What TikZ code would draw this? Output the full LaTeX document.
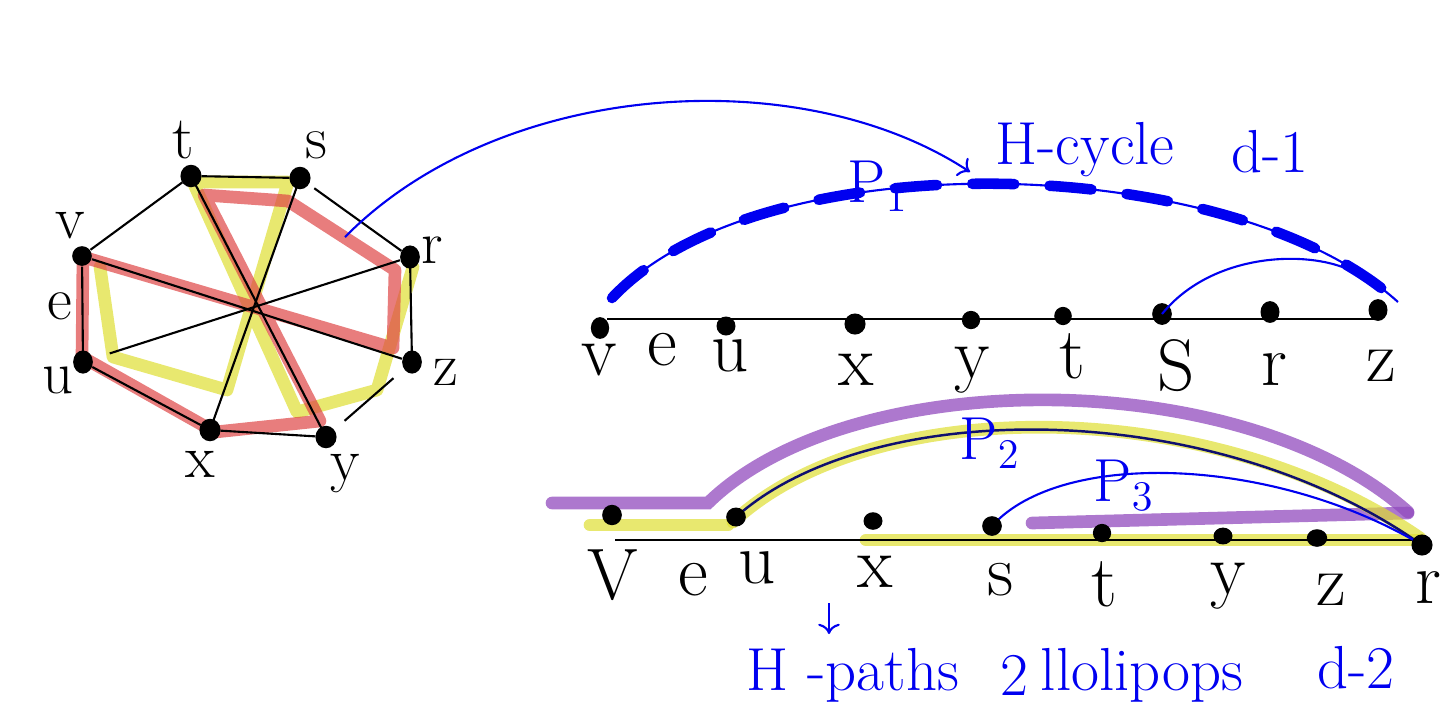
\documentclass[tikz,border=0pt]{standalone}
\usepackage{amsmath}
\usepackage{amssymb}
\usepackage{xcolor}
\usepackage{tikz}
\usetikzlibrary{arrows.meta}

\definecolor{hlred}{RGB}{222,70,70}
\definecolor{hlyel}{RGB}{222,222,50}
\definecolor{hlpur}{RGB}{145,75,190}
\definecolor{penblue}{RGB}{0,0,240}
\definecolor{navy}{RGB}{15,15,110}

\tikzset{
  edge/.style={black,line width=0.6pt,shorten <=3pt,shorten >=3pt},
  dot/.style={black},
  redhl/.style={hlred,line width=3.6pt,opacity=0.7,line join=round,line cap=round},
  yelhl/.style={hlyel,line width=3.6pt,opacity=0.7,line join=round,line cap=round},
  purhl/.style={hlpur,line width=3.6pt,opacity=0.75,line cap=round},
  pen/.style={penblue,line width=0.6pt},
  penthick/.style={penblue,line width=3pt,line cap=round,dash pattern=on 12pt off 10pt},
  vlab/.style={font=\LARGE},
  hlab/.style={font=\huge},
  note/.style={penblue,font=\LARGE}
}

\begin{document}
\begin{tikzpicture}[x=0.01cm,y=-0.01cm]
\useasboundingbox (0,0) rectangle (1451,708);

% the octagon
\coordinate (t) at (191,176);
\coordinate (s) at (300,178);
\coordinate (r) at (410,257);
\coordinate (z) at (412,362);
\coordinate (y) at (326,437);
\coordinate (x) at (210,430);
\coordinate (u) at (83,362);
\coordinate (v) at (82,256);

\draw[yelhl] (100,267) -- (113,357) -- (227,390) -- (288,182) -- (193,182) -- (297,412) -- (377,390) -- (413,267);
\draw[redhl] (83,257) -- (82,357) -- (215,432) -- (320,421) -- (204,195) -- (288,201) -- (395,270) -- (393,348) -- cycle;

\draw[edge] (t) -- (s);
\draw[edge] (t) -- (v);
\draw[edge,shorten <=5pt] (s) -- (r);
\draw[edge] (r) -- (z);
\draw[edge,shorten <=7pt,shorten >=7pt] (z) -- (y);
\draw[edge] (y) -- (x);
\draw[edge] (x) -- (u);
\draw[edge] (v) -- (u);
\draw[edge] (t) -- (y);
\draw[edge] (s) -- (x);
\draw[edge] (v) -- (z);
\draw[edge,shorten >=8pt] (r) -- (u);

\fill[dot] (t) ellipse[x radius=3pt,y radius=3.2pt];
\fill[dot] (s) ellipse[x radius=3pt,y radius=3.2pt];
\fill[dot] (r) ellipse[x radius=2.8pt,y radius=3.3pt];
\fill[dot] (z) ellipse[x radius=2.8pt,y radius=3.3pt];
\fill[dot] (y) ellipse[x radius=3pt,y radius=3.2pt];
\fill[dot] (x) ellipse[x radius=3pt,y radius=3.2pt];
\fill[dot] (u) ellipse[x radius=2.8pt,y radius=3.3pt];
\fill[dot] (v) ellipse[x radius=2.8pt,y radius=2.8pt];

\node[vlab] (lt) at (183,140) {t};
\node[vlab] (ls) at (316,145) {s};
\node[vlab] (lr) at (432,250) {r};
\node[vlab] (lz) at (446,372) {z};
\node[vlab] (ly) at (345,474) {y};
\node[vlab] (lx) at (200,464) {x};
\node[vlab] (lu) at (58,380) {u};
\node[vlab] (le) at (60,306) {e};
\node[vlab] (lv) at (70,226) {v};

% first line: the H-cycle
\coordinate (av) at (600,328);
\coordinate (au) at (726,326);
\coordinate (ax) at (855,324);
\coordinate (ay) at (971,320);
\coordinate (at) at (1063,316);
\coordinate (as) at (1162,314);
\coordinate (ar) at (1270,312);
\coordinate (az) at (1378,310);
\coordinate (aend) at (1376,319);

\draw[black,line width=0.8pt] (607,319) -- (aend);
\fill[dot] (av) ellipse[x radius=2.6pt,y radius=3.1pt];
\fill[dot] (au) ellipse[x radius=2.7pt,y radius=2.7pt];
\fill[dot] (ax) ellipse[x radius=3pt,y radius=3pt];
\fill[dot] (ay) ellipse[x radius=2.6pt,y radius=2.6pt];
\fill[dot] (at) ellipse[x radius=2.5pt,y radius=2.6pt];
\fill[dot] (as) ellipse[x radius=2.8pt,y radius=3.1pt];
\fill[dot] (ar) ellipse[x radius=2.7pt,y radius=3.1pt];
\fill[dot] (az) ellipse[x radius=2.7pt,y radius=3.1pt];

\node[hlab] (tv) at (599,360) {v};
\node[hlab] (te) at (662,350) {e};
\node[hlab] (tu) at (730,356) {u};
\node[hlab] (tx) at (856,370) {x};
\node[hlab] (ty) at (972,370) {y};
\node[hlab] (tt) at (1072,356) {t};
\node[hlab] (ts) at (1176,366) {S};
\node[hlab] (tr) at (1274,370) {r};
\node[hlab] (tz) at (1381,366) {z};

\coordinate (cyca) at (612,298);
\coordinate (cycb) at (1398,302);
\draw[pen] (cyca) .. controls (760,140) and (1230,150) .. (cycb);
\draw[penthick] (cyca) .. controls (760,140) and (1230,150) .. (cycb);
\coordinate (join) at (1345,268);
\draw[pen] (as) .. controls (1210,255) and (1300,250) .. (join);

\coordinate (redmid) at (345,237);
\coordinate (htip) at (970,172);
\draw[pen,->] (redmid) .. controls (500,80) and (800,60) .. (htip);

\node[note] (pone) at (878,186) {P$_1$};
\node[note] (hcyc) at (1085,150) {H-cycle};
\node[note] (done) at (1270,152) {d-1};

% second line: H-paths and lollipops
\coordinate (bv) at (612,515);
\coordinate (bu) at (736,517);
\coordinate (bx) at (873,521);
\coordinate (bs) at (992,526);
\coordinate (bt) at (1102,533);
\coordinate (by) at (1223,536);
\coordinate (bz) at (1317,538);
\coordinate (br) at (1422,545);
\coordinate (bstart) at (615,540);
\coordinate (bend) at (1420,540);

\draw[purhl] (552,503) -- (708,503) .. controls (850,364) and (1242,364) .. (1408,512);
\draw[purhl] (1032,523) -- (1408,513);
\draw[yelhl] (590,525) -- (728,525);
\draw[yelhl] (733,522) .. controls (870,394) and (1209,392) .. (1420,538);
\draw[yelhl] (866,540) -- (1420,540);

\draw[black,line width=0.8pt] (bstart) -- (bend);
\draw[navy,line width=0.7pt] (bu) .. controls (870,397) and (1210,395) .. (br);
\draw[pen] (bs) .. controls (1060,450) and (1270,455) .. (br);

\fill[dot] (bv) ellipse[x radius=2.8pt,y radius=2.9pt];
\fill[dot] (bu) ellipse[x radius=2.8pt,y radius=2.7pt];
\fill[dot] (bx) ellipse[x radius=2.7pt,y radius=2.5pt];
\fill[dot] (bs) ellipse[x radius=2.8pt,y radius=2.8pt];
\fill[dot] (bt) ellipse[x radius=2.6pt,y radius=2.6pt];
\fill[dot] (by) ellipse[x radius=2.7pt,y radius=2.4pt];
\fill[dot] (bz) ellipse[x radius=2.9pt,y radius=2.5pt];
\fill[dot] (br) ellipse[x radius=3pt,y radius=3pt];

\node[hlab] (sv) at (613,575) {V};
\node[hlab] (se) at (693,580) {e};
\node[hlab] (su) at (757,568) {u};
\node[hlab] (sx) at (875,572) {x};
\node[hlab] (ss) at (1001,580) {s};
\node[hlab] (st) at (1104,584) {t};
\node[hlab] (sy) at (1228,586) {y};
\node[hlab] (sz) at (1331,590) {z};
\node[hlab] (sr) at (1428,588) {r};

\node[note] (ptwo) at (990,443) {P$_2$};
\node[note] (pthree) at (1124,485) {P$_3$};

\coordinate (arra) at (829,603);
\coordinate (arrb) at (829,634);
\draw[pen,->] (arra) -- (arrb);
\node[note] (hpath) at (853,675) {H -paths};
\node[note] (ntwo) at (1014,675) {2};
\node[note] (lolli) at (1142,675) {llolipops};
\node[note] (dtwo) at (1356,668) {d-2};
\end{tikzpicture}
\end{document}
